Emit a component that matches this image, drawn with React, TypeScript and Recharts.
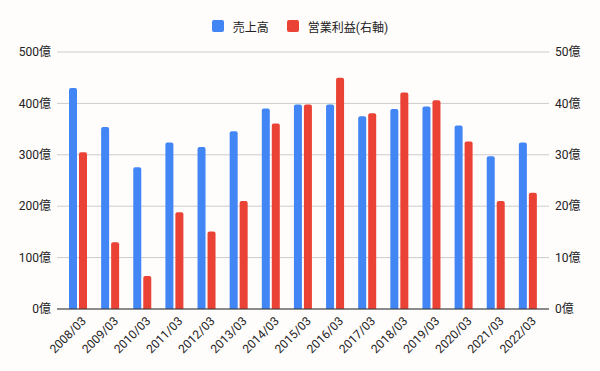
import React from "react";
import {
  BarChart,
  Bar,
  XAxis,
  YAxis,
  CartesianGrid,
  ReferenceLine,
} from "recharts";

const categories = [
  "2008/03", "2009/03", "2010/03", "2011/03", "2012/03", "2013/03", "2014/03", "2015/03",
  "2016/03", "2017/03", "2018/03", "2019/03", "2020/03", "2021/03", "2022/03",
];
const sales = [430, 354, 276, 324, 315, 346, 390, 398, 398, 375, 389, 394, 357, 297, 324];
const profit = [30.5, 13.0, 6.4, 18.8, 15.1, 21.0, 36.1, 39.8, 45.0, 38.1, 42.1, 40.6, 32.6, 21.0, 22.6];
const leftTicks = [0, 100, 200, 300, 400, 500];
const rightTicks = [0, 10, 20, 30, 40, 50];
const seriesNames = ["売上高", "営業利益(右軸)"];
const colors = ["#4285f4", "#ea4335"];

const data = categories.map((c, i) => ({ name: c, sales: sales[i], profit: profit[i] }));

const FONT = "Roboto, 'Noto Sans CJK JP', sans-serif";

const XTick = (props: any) => {
  const { x, y, payload } = props;
  const ax = x + 6;
  const ay = y + 10;
  return (
    <text
      x={ax}
      y={ay}
      textAnchor="end"
      dominantBaseline="central"
      transform={`rotate(-45 ${ax} ${ay})`}
      fontSize={12}
      fill="#222"
      fontFamily={FONT}
    >
      {payload.value}
    </text>
  );
};

const LegendBox = () => (
  <div
    style={{
      position: "absolute",
      top: 17,
      left: 0,
      width: 600,
      height: 18,
      display: "flex",
      justifyContent: "center",
      alignItems: "center",
      fontFamily: FONT,
      fontSize: 12,
      color: "#222",
    }}
  >
    {seriesNames.map((n, i) => (
      <div key={n} style={{ display: "flex", alignItems: "center", marginRight: i === 0 ? 18 : 0 }}>
        <div
          style={{
            width: 12,
            height: 12,
            background: colors[i],
            borderRadius: 2,
            marginRight: 9,
          }}
        />
        <span>{n}</span>
      </div>
    ))}
  </div>
);

export default function App() {
  return (
    <div
      style={{
        position: "absolute",
        left: 0,
        top: 0,
        width: 600,
        height: 371,
        background: "#fffcfc",
      }}
    >
      <BarChart
        width={600}
        height={371}
        data={data}
        margin={{ top: 52, right: 0, bottom: 0, left: 0 }}
        barSize={8}
        barGap={2}
      >
        <CartesianGrid vertical={false} stroke="#cccccc" yAxisId="left" />
        <XAxis
          dataKey="name"
          height={62}
          padding={{ left: 5, right: 5 }}
          tickLine={false}
          axisLine={false}
          tickSize={0}
          tickMargin={0}
          interval={0}
          tick={<XTick />}
        />
        <YAxis
          yAxisId="left"
          orientation="left"
          width={57}
          domain={[0, 500]}
          ticks={leftTicks}
          tickFormatter={(v: number) => `${v}億`}
          tickLine={false}
          axisLine={false}
          tickSize={4}
          tickMargin={2}
          tick={{ fontSize: 12, fill: "#222", fontFamily: FONT }}
        />
        <YAxis
          yAxisId="right"
          orientation="right"
          width={51}
          domain={[0, 50]}
          ticks={rightTicks}
          tickFormatter={(v: number) => `${v}億`}
          tickLine={false}
          axisLine={false}
          tickSize={4}
          tickMargin={2}
          tick={{ fontSize: 12, fill: "#222", fontFamily: FONT }}
        />
        <Bar
          yAxisId="left"
          dataKey="sales"
          name={seriesNames[0]}
          fill={colors[0]}
          radius={[2, 2, 0, 0]}
          isAnimationActive={false}
        />
        <Bar
          yAxisId="right"
          dataKey="profit"
          name={seriesNames[1]}
          fill={colors[1]}
          radius={[2, 2, 0, 0]}
          isAnimationActive={false}
        />
        <ReferenceLine yAxisId="left" y={0} stroke="#333333" strokeWidth={1} />
      </BarChart>
      <LegendBox />
    </div>
  );
}
